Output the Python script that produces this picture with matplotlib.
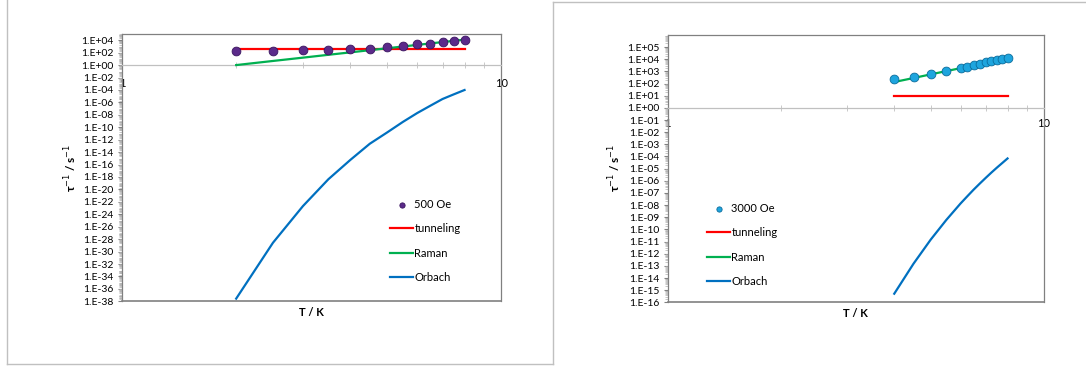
import numpy as np
import matplotlib.pyplot as plt
from matplotlib.lines import Line2D
from matplotlib.ticker import FixedLocator, LogLocator, FuncFormatter, NullFormatter

plt.rcParams['font.family'] = ['Lato', 'DejaVu Sans']

# 500 Oe data and fit components
T_500 = [2.0, 2.5, 3.0, 3.5, 4.0, 4.5, 5.0, 5.5, 6.0, 6.5, 7.0, 7.5, 8.0]
rate_500 = [178, 214, 263, 316, 398, 457, 759, 1175, 2138, 2951, 4467, 8318, 11220]
tunnel_T_500 = [2.0, 8.0]
tunnel_500 = [330, 330]
raman_500 = [1.0, 4.6, 15.7, 45, 111, 248, 508, 972, 1757, 3027, 5012, 8000, 12400]
orbach_500 = [2.7e-38, 2.6e-29, 2.1e-23, 4.3e-19, 5.6e-16, 2.2e-13, 1.45e-11,
              7.1e-10, 1.9e-08, 2.9e-07, 3.5e-06, 2.0e-05, 9.8e-05]

# 3000 Oe data and fit components
T_3000 = [4.0, 4.5, 5.0, 5.5, 6.0, 6.25, 6.5, 6.75, 7.0, 7.25, 7.5, 7.75, 8.0]
rate_3000 = [234, 339, 575, 1000, 1820, 2455, 3162, 4266, 5754, 6918, 8913, 11220, 12020]
tunnel_T_3000 = [4.0, 8.0]
tunnel_3000 = [10, 10]
raman_3000 = [135, 288, 575, 1072, 1862, 2455, 3162, 4074, 5129, 6457, 8128, 10000, 12300]
orbach_3000 = [5.1e-16, 1.5e-13, 1.45e-11, 6.0e-10, 1.35e-08, 5.2e-08, 1.86e-07,
               5.9e-07, 1.74e-06, 4.8e-06, 1.23e-05, 2.95e-05, 6.9e-05]

W, H = 1086, 368
fig = plt.figure(figsize=(W / 100, H / 100), dpi=100)

def px(l, t, r, b):
    return [l / W, 1 - b / H, (r - l) / W, (b - t) / H]

def fmt_exp(v, pos):
    e = int(round(np.log10(v)))
    return '1.E%+03d' % e

def setup(ax, ymin, ymax, step, pad_x):
    ax.set_xscale('log')
    ax.set_yscale('log')
    ax.set_xlim(1, 10)
    ax.set_ylim(10.0 ** ymin, 10.0 ** ymax)
    for s in ax.spines.values():
        s.set_color('#808080')
        s.set_linewidth(0.9)
    # x axis crosses at 1
    ax.spines['bottom'].set_position(('data', 1))
    ax.spines['bottom'].set_color('#c0c0c0')
    ax.add_line(Line2D([0, 1], [0, 0], transform=ax.transAxes, color='#808080',
                       lw=1.2, clip_on=False))
    ax.xaxis.set_major_locator(FixedLocator([1, 10]))
    ax.xaxis.set_major_formatter(FuncFormatter(lambda v, p: '%d' % v))
    ax.xaxis.set_minor_locator(LogLocator(base=10, subs=np.arange(2, 10)))
    ax.xaxis.set_minor_formatter(NullFormatter())
    ax.tick_params(axis='x', which='major', length=0, pad=pad_x, labelsize=8)
    ax.tick_params(axis='x', which='minor', length=4, direction='inout', color='#c0c0c0')
    ax.yaxis.set_major_locator(FixedLocator([10.0 ** e for e in range(ymin, ymax, step)]))
    ax.yaxis.set_major_formatter(FuncFormatter(fmt_exp))
    ax.yaxis.set_minor_locator(LogLocator(base=10, subs=np.arange(2, 10), numticks=100))
    ax.yaxis.set_minor_formatter(NullFormatter())
    ax.tick_params(axis='y', which='major', length=3, color='#808080', pad=3, labelsize=7.5)
    ax.tick_params(axis='y', which='minor', length=2, color='#b0b0b0', width=0.5)

def draw(ax, T, rate, tT, tun, ram, orb, label, fc, ec, leg_xy):
    pts = ax.scatter(T, rate, s=40, color=fc, edgecolors=ec, linewidths=0.6,
                     zorder=5, label=label)
    l1, = ax.plot(tT, tun, color='#ff0000', lw=1.6, label='tunneling', zorder=3)
    l2, = ax.plot(T, ram, color='#00b050', lw=1.6, label='Raman', zorder=4)
    l3, = ax.plot(T, orb, color='#0070c0', lw=1.6, label='Orbach', zorder=3)
    ax.legend(handles=[pts, l1, l2, l3], loc='upper left', frameon=False,
              bbox_to_anchor=leg_xy, bbox_transform=fig.transFigure,
              fontsize=8, handlelength=2.1, handletextpad=0.1,
              labelspacing=1.2, borderpad=0, borderaxespad=0, markerscale=0.6)
    ax.set_xlabel('T / K', fontweight='bold', fontsize=8, labelpad=0)

# left panel
ax1 = fig.add_axes(px(122, 34, 501.3, 301.3))
setup(ax1, -38, 5, 2, 9)
draw(ax1, T_500, rate_500, tunnel_T_500, tunnel_500, raman_500, orbach_500,
     '500 Oe', '#5b2a8a', '#3a1560', (390 / W, 1 - 199 / H))
ax1.xaxis.set_label_coords(0.5, -0.02)

# right panel
ax2 = fig.add_axes(px(667.7, 35, 1044, 302.3))
setup(ax2, -16, 6, 1, 7)
draw(ax2, T_3000, rate_3000, tunnel_T_3000, tunnel_3000, raman_3000, orbach_3000,
     '3000 Oe', '#1ea5de', '#0b6c9c', (707 / W, 1 - 203 / H))
ax2.xaxis.set_label_coords(0.5, -0.02)

# y labels
fig.text(70.7 / W, 1 - 168 / H, 'τ$^{-1}$ / s$^{-1}$', rotation=90, fontweight='bold',
         fontsize=8.5, ha='center', va='center')
fig.text(615 / W, 1 - 168 / H, 'τ$^{-1}$ / s$^{-1}$', rotation=90, fontweight='bold',
         fontsize=8.5, ha='center', va='center')

# chart frames
fc = '#c0c0c0'
fig.add_artist(Line2D([6.7 / W, 6.7 / W], [1, 1 - 364.3 / H], color=fc, lw=1))
fig.add_artist(Line2D([6.7 / W, 552.7 / W], [1 - 364.3 / H, 1 - 364.3 / H], color=fc, lw=1))
fig.add_artist(Line2D([552.7 / W, 552.7 / W], [1 - 1.5 / H, 1 - 364.3 / H], color=fc, lw=1))
fig.add_artist(Line2D([552.7 / W, 1], [1 - 1.5 / H, 1 - 1.5 / H], color=fc, lw=1))

fig.savefig('out.png', dpi=100)
